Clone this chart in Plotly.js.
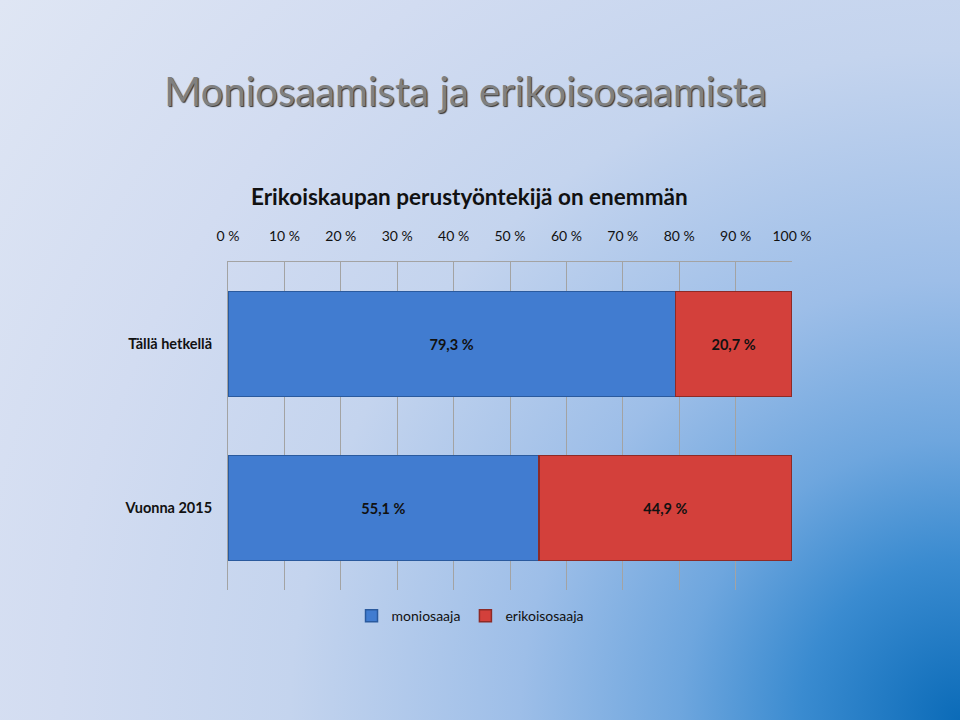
<!DOCTYPE html>
<html>
<head>
<meta charset="utf-8">
<script src="https://cdn.plot.ly/plotly-3.0.1.min.js"></script>
<style>
html, body { margin:0; padding:0; }
body {
  width:960px; height:720px; overflow:hidden;
  background: radial-gradient(circle at 100% 100%, #0b6bb8 0px, #3a8bd0 160px, #6ea6de 280px, #9dbee8 440px, #c4d4ee 670px, #d2dcf1 900px, #dfe6f4 1200px);
}
#chart { width:960px; height:720px; }
</style>
</head>
<body>
<div id="chart"></div>
<script>
const categories = ["Tällä hetkellä", "Vuonna 2015"];
const moniosaaja = [79.3, 55.1];
const erikoisosaaja = [20.7, 44.9];
const seriesNames = ["moniosaaja", "erikoisosaaja"];
const tickValues = [0, 10, 20, 30, 40, 50, 60, 70, 80, 90, 100];
const tickLabels = ["0 %", "10 %", "20 %", "30 %", "40 %", "50 %", "60 %", "70 %", "80 %", "90 %", "100 %"];

function fmt(v) { return v.toFixed(1).replace('.', ',') + ' %'; }

const FAM = "Lato, 'Open Sans', sans-serif";
const labelFont = {family: FAM, size: 14.5, color: "#111", weight: 700};

const traces = [
  {
    type: 'bar', orientation: 'h', name: seriesNames[0],
    y: categories, x: moniosaaja,
    text: moniosaaja.map(fmt), textposition: 'inside', insidetextanchor: 'middle',
    textfont: labelFont,
    marker: {color: '#417cd0', line: {color: '#2a5a9e', width: 1.5}},
    hoverinfo: 'none'
  },
  {
    type: 'bar', orientation: 'h', name: seriesNames[1],
    y: categories, x: erikoisosaaja,
    text: erikoisosaaja.map(fmt), textposition: 'inside', insidetextanchor: 'middle',
    textfont: labelFont,
    marker: {color: '#d3403b', line: {color: '#8e2a26', width: 1.5}},
    hoverinfo: 'none'
  }
];

const layout = {
  width: 960, height: 720,
  paper_bgcolor: 'rgba(0,0,0,0)', plot_bgcolor: 'rgba(0,0,0,0)',
  margin: {l: 228, r: 168, t: 262, b: 130},
  barmode: 'stack', bargap: 0.36,
  showlegend: true,
  legend: {orientation: 'h', x: 0.43, xanchor: 'center', y: -0.08, yanchor: 'middle',
           font: {family: FAM, size: 14, color: '#111'},
           traceorder: 'normal', itemwidth: 30},
  title: {text: 'Moniosaamista ja erikoisosaamista', xref: 'container', yref: 'container',
          x: 0.485, xanchor: 'center', y: 0.872, yanchor: 'middle',
          font: {family: FAM, size: 40, color: '#808080', shadow: '1px 1px 1px #333'}},
  xaxis: {
    side: 'top', range: [0, 100], tickvals: tickValues, ticktext: tickLabels,
    showgrid: true, gridcolor: '#a3a3a3', gridwidth: 1,
    showline: true, linecolor: '#a3a3a3', linewidth: 1,
    zeroline: false, ticks: '', ticklabelstandoff: 14,
    tickfont: {family: FAM, size: 14, color: '#111'},
    fixedrange: true
  },
  yaxis: {
    autorange: 'reversed', categoryorder: 'array', categoryarray: categories,
    showline: true, linecolor: '#a3a3a3', linewidth: 1, showgrid: false,
    ticks: '', ticklabelstandoff: 12,
    tickfont: {family: FAM, size: 14.5, color: "#111", weight: 700}, fixedrange: true
  },
  annotations: [
    {text: 'Erikoiskaupan perustyöntekijä on enemmän', xref: 'paper', yref: 'paper',
     x: 0.429, y: 1.201, xanchor: 'center', yanchor: 'middle', showarrow: false,
     font: {family: FAM, size: 22.5, color: '#111', weight: 700}}
  ]
};

Plotly.newPlot('chart', traces, layout, {displayModeBar: false, staticPlot: true});
</script>
</body>
</html>
